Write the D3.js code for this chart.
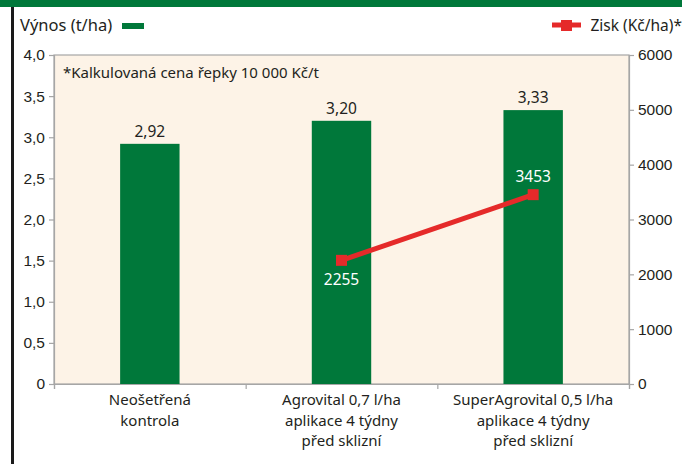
<!DOCTYPE html>
<html>
<head>
<meta charset="utf-8">
<script src="https://cdn.jsdelivr.net/npm/d3@7"></script>
<style>
  body { margin: 0; background: #fff; }
  svg { display: block; font-family: 'Noto Sans', sans-serif; }
</style>
</head>
<body>
<div id="chart"></div>
<script>
// data
const categories = [
    ['Neošetřená', 'kontrola'],
    ['Agrovital 0,7 l/ha', 'aplikace 4 týdny', 'před sklizní'],
    ['SuperAgrovital 0,5 l/ha', 'aplikace 4 týdny', 'před sklizní']
];
const yieldValues = [2.92, 3.20, 3.33];
const profitValues = [null, 2255, 3453];
const leftTicks = [0, 0.5, 1, 1.5, 2, 2.5, 3, 3.5, 4];
const rightTicks = [0, 1000, 2000, 3000, 4000, 5000, 6000];

const W = 682, H = 464;
const margin = { top: 55, right: 53, bottom: 80, left: 54 };
const width = W - margin.left - margin.right;
const height = H - margin.top - margin.bottom;

const green = '#00783a';
const red = '#e52a2a';
const textCol = '#231f20';
const fs = '15.5px';

const root = d3.select('#chart').append('svg')
    .attr('width', W)
    .attr('height', H);

// top band + left border
root.append('rect').attr('x', 0).attr('y', 0).attr('width', W).attr('height', 7).attr('fill', green);
root.append('rect').attr('x', 11).attr('y', 7).attr('width', 3).attr('height', H - 7).attr('fill', '#1a1a1a');

const svg = root.append('g')
    .attr('transform', 'translate(' + margin.left + ',' + margin.top + ')');

// scales
const x = d3.scaleBand()
    .domain(d3.range(categories.length))
    .range([0, width])
    .paddingInner(0.69)
    .paddingOuter(0.345);
const xc = d3.scaleBand().domain(d3.range(categories.length)).range([0, width]);
const y = d3.scaleLinear().domain([0, 4]).range([height, 0]);
const y2 = d3.scaleLinear().domain([0, 6000]).range([height, 0]);

// plot background
svg.append('rect')
    .attr('width', width).attr('height', height)
    .attr('fill', '#fdf3e7')
    .attr('stroke', '#a6a6a6').attr('stroke-width', 1.2);

// left axis
const leftAxis = svg.append('g')
    .call(d3.axisLeft(y).tickValues(leftTicks).tickSize(5).tickPadding(4)
        .tickFormat(d => d === 0 ? '0' : d3.format('.1f')(d).replace('.', ',')));
// right axis
const rightAxis = svg.append('g')
    .attr('transform', 'translate(' + width + ',0)')
    .call(d3.axisRight(y2).tickValues(rightTicks).tickSize(5).tickPadding(4).tickFormat(d3.format('d')));
// bottom axis ticks (category boundaries)
const bottomAxis = svg.append('g')
    .attr('transform', 'translate(0,' + height + ')')
    .call(d3.axisBottom(d3.scaleLinear().domain([0, 3]).range([0, width]))
        .tickValues([0, 1, 2, 3]).tickSize(5).tickFormat(''));

[leftAxis, rightAxis, bottomAxis].forEach(a => {
    a.select('.domain').attr('stroke', '#a6a6a6').attr('stroke-width', 1.2);
    a.selectAll('line').attr('stroke', '#a6a6a6').attr('stroke-width', 1.2);
    a.selectAll('text').attr('fill', textCol).style('font-size', fs);
});

// note
svg.append('text')
    .attr('x', 9).attr('y', 23)
    .attr('fill', textCol)
    .style('font-size', '15px')
    .text('*Kalkulovaná cena řepky 10 000 Kč/t');

// bars
svg.selectAll('.bar')
    .data(yieldValues)
    .join('rect')
    .attr('class', 'bar')
    .attr('x', (d, i) => x(i))
    .attr('width', x.bandwidth())
    .attr('y', d => y(d))
    .attr('height', d => height - y(d))
    .attr('fill', green);

svg.selectAll('.barlab')
    .data(yieldValues)
    .join('text')
    .attr('class', 'barlab')
    .attr('x', (d, i) => x(i) + x.bandwidth() / 2)
    .attr('y', d => y(d) - 7)
    .attr('text-anchor', 'middle')
    .attr('fill', textCol)
    .style('font-size', fs)
    .text(d => d3.format('.2f')(d).replace('.', ','));

// category labels, one text per line
categories.forEach((lines, i) => {
    lines.forEach((l, j) => {
        svg.append('text')
            .attr('x', xc(i) + xc.bandwidth() / 2)
            .attr('y', height + 21 + j * 20.5)
            .attr('text-anchor', 'middle')
            .attr('fill', textCol)
            .style('font-size', '15px')
            .text(l);
    });
});

// profit line
const pts = profitValues.map((v, i) => ({ i: i, v: v })).filter(d => d.v !== null);
svg.append('path')
    .datum(pts)
    .attr('fill', 'none')
    .attr('stroke', red)
    .attr('stroke-width', 5)
    .attr('d', d3.line()
        .x(d => xc(d.i) + xc.bandwidth() / 2)
        .y(d => y2(d.v)));

svg.selectAll('.mk')
    .data(pts)
    .join('rect')
    .attr('class', 'mk')
    .attr('x', d => xc(d.i) + xc.bandwidth() / 2 - 5.5)
    .attr('y', d => y2(d.v) - 5.5)
    .attr('width', 11).attr('height', 11)
    .attr('fill', red);

svg.selectAll('.mklab')
    .data(pts)
    .join('text')
    .attr('class', 'mklab')
    .attr('x', d => xc(d.i) + xc.bandwidth() / 2)
    .attr('y', (d, k) => k === 0 ? y2(d.v) + 25 : y2(d.v) - 13)
    .attr('text-anchor', 'middle')
    .attr('fill', '#fff')
    .style('font-size', fs)
    .text(d => d.v);

// legends
root.append('text')
    .attr('x', 20).attr('y', 31)
    .attr('fill', textCol)
    .style('font-size', '16.5px')
    .text('Výnos (t/ha)');
root.append('rect')
    .attr('x', 122).attr('y', 23).attr('width', 22).attr('height', 6)
    .attr('fill', green);

root.append('line')
    .attr('x1', 552).attr('x2', 581).attr('y1', 25).attr('y2', 25)
    .attr('stroke', red).attr('stroke-width', 5);
root.append('rect')
    .attr('x', 561).attr('y', 20).attr('width', 11).attr('height', 11)
    .attr('fill', red);
root.append('text')
    .attr('x', 682).attr('y', 31)
    .attr('text-anchor', 'end')
    .attr('fill', textCol)
    .style('font-size', '15.5px')
    .text('Zisk (Kč/ha)*');
</script>
</body>
</html>
